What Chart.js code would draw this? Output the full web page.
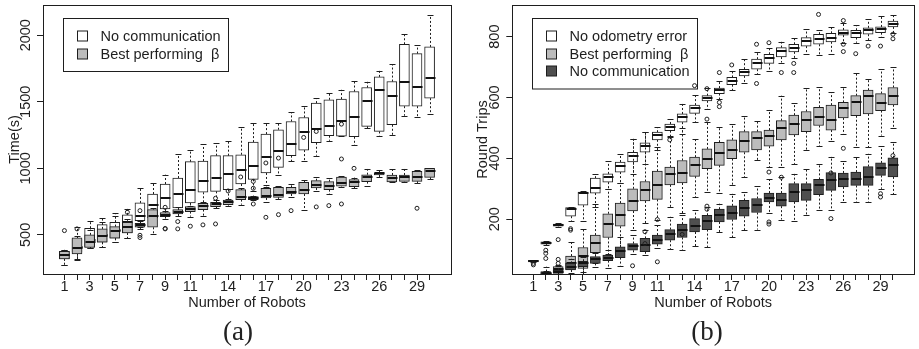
<!DOCTYPE html>
<html>
<head>
<meta charset="utf-8">
<script src="https://cdn.jsdelivr.net/npm/chart.js@4.4.1/dist/chart.umd.min.js"></script>
<style>
  body { margin: 0; background: #fff; width: 919px; height: 349px; position: relative; overflow: hidden; }
  .panel { position: absolute; top: 0; }
  canvas { display: block; }
  .cap { position: absolute; top: 316px; line-height: 30px; font-family: "Liberation Serif", serif; font-size: 27px; color: #222; transform: translateX(-50%); }
</style>
</head>
<body>
<div class="panel" style="left:0"><canvas id="chartA" width="459" height="349"></canvas></div>
<div class="panel" style="left:459px"><canvas id="chartB" width="460" height="349"></canvas></div>
<div class="cap" style="left:238px">(a)</div>
<div class="cap" style="left:707px">(b)</div>
<script>
// number of robots, one box per value
const robots = [1, 2, 3, 4, 5, 6, 7, 8, 9, 10, 11, 12, 13, 14, 15, 16, 17, 18, 19, 20, 21, 22, 23, 24, 25, 26, 27, 28, 29, 30];
const xLabels = [1, 3, 5, 7, 9, 11, 14, 17, 20, 23, 26, 29];
const timeTicks = [500, 1000, 1500, 2000];
const tripTicks = [200, 400, 600, 800];

// (a) Time(s): rows are [min, q1, median, q3, max]
const timeNoComm = [
    [277, 320, 345, 377, 387], [320, 370, 410, 470, 557], [400, 407, 460, 550, 602], [407, 445, 500, 577, 625],
    [445, 475, 535, 595, 662], [477, 515, 600, 650, 695], [560, 607, 645, 740, 852], [570, 627, 725, 807, 890],
    [650, 695, 777, 882, 952], [670, 702, 807, 927, 1107], [700, 740, 837, 1050, 1137], [720, 820, 902, 1055, 1182],
    [740, 827, 925, 1095, 1190], [760, 840, 960, 1095, 1202], [790, 882, 987, 1102, 1312], [830, 917, 1020, 1197, 1337],
    [877, 965, 1082, 1257, 1340], [952, 1007, 1127, 1290, 1340], [1052, 1095, 1182, 1352, 1420], [1057, 1137, 1270, 1382, 1467],
    [1095, 1192, 1295, 1490, 1527], [1207, 1245, 1317, 1515, 1565], [1240, 1242, 1357, 1520, 1590], [1175, 1237, 1387, 1577, 1657],
    [1300, 1315, 1502, 1607, 1650], [1245, 1277, 1587, 1687, 1732], [1250, 1327, 1540, 1652, 1782], [1395, 1467, 1645, 1932, 2012],
    [1387, 1467, 1612, 1862, 1925], [1407, 1527, 1677, 1912, 2152]
];
const timeNoCommOut = [[2, 545], [6, 670], [7, 682], [9, 707], [15, 935], [17, 1040], [18, 1077], [20, 1232], [21, 1277], [23, 1332]];

const timeBest = [
    [277, 320, 345, 377, 387], [312, 357, 402, 477, 490], [400, 405, 445, 500, 540], [407, 445, 495, 545, 600],
    [445, 475, 527, 562, 640], [477, 515, 557, 595, 620], [545, 557, 575, 587, 607], [507, 557, 640, 690, 700],
    [620, 637, 652, 667, 680], [640, 657, 675, 690, 710], [637, 675, 695, 712, 720], [640, 690, 715, 737, 745],
    [700, 712, 730, 745, 760], [720, 727, 747, 762, 770], [727, 765, 782, 840, 850], [760, 765, 777, 787, 795],
    [745, 777, 795, 850, 862], [770, 782, 800, 857, 867], [782, 807, 825, 857, 882], [687, 807, 840, 895, 912],
    [827, 852, 877, 907, 937], [807, 840, 870, 900, 927], [862, 865, 887, 935, 940], [850, 862, 900, 915, 930],
    [870, 900, 932, 952, 995], [932, 950, 962, 967, 990], [895, 897, 927, 950, 992], [900, 902, 932, 950, 997],
    [890, 902, 937, 977, 985], [920, 932, 982, 1000, 1002]
];
const timeBestOut = [[1, 532], [7, 497], [7, 480], [9, 545], [9, 548], [10, 600], [10, 545], [11, 565], [12, 575], [13, 582],
    [13, 775], [14, 830], [16, 902], [16, 850], [16, 732], [17, 632], [18, 652], [19, 682], [21, 710], [22, 720],
    [23, 1070], [23, 732], [24, 1000], [29, 700]];

// (b) Round trips
const tripsNoError = [
    [58, 60, 63, 65, 66], [115, 118, 122, 126, 128], [176, 177, 180, 184, 186], [195, 210, 235, 238, 240],
    [195, 246, 286, 289, 292], [240, 286, 304, 335, 348], [300, 322, 338, 349, 390], [319, 355, 374, 388, 413],
    [349, 388, 407, 420, 464], [382, 420, 442, 451, 486], [426, 461, 477, 486, 502], [469, 491, 504, 513, 529],
    [480, 519, 535, 546, 579], [519, 548, 565, 575, 608], [562, 589, 598, 606, 631], [595, 613, 624, 631, 655],
    [624, 642, 655, 666, 688], [649, 671, 684, 693, 726], [677, 693, 712, 726, 748], [686, 712, 729, 742, 764],
    [715, 733, 753, 764, 783], [729, 750, 764, 775, 797], [742, 769, 786, 797, 824], [740, 775, 791, 808, 821],
    [744, 783, 797, 811, 833], [780, 805, 813, 822, 845], [780, 797, 811, 821, 837], [788, 808, 821, 829, 857],
    [799, 813, 824, 832, 868], [813, 832, 843, 851, 871]
];
const tripsNoErrorOut = [[1, 50], [1, 55], [2, 98], [2, 88], [2, 71], [3, 133], [4, 169], [4, 164], [12, 461], [14, 639],
    [15, 629], [15, 529], [16, 682], [16, 584], [16, 570], [17, 707], [19, 775], [19, 646], [20, 780], [21, 682],
    [22, 712], [22, 682], [24, 873], [26, 853], [26, 775], [26, 751], [27, 744], [28, 769], [29, 769], [30, 808], [30, 793]];

const tripsBest = [
    null, [12, 18, 22, 28, 44], [20, 24, 35, 44, 50], [22, 35, 55, 79, 126],
    [20, 38, 79, 107, 169], [55, 90, 122, 148, 249], [85, 140, 184, 218, 300], [100, 177, 215, 253, 320],
    [164, 227, 259, 300, 464], [186, 260, 295, 324, 486], [197, 265, 313, 358, 437], [240, 313, 347, 371, 475],
    [219, 319, 352, 393, 500], [273, 341, 377, 404, 464], [289, 366, 398, 431, 519], [286, 377, 418, 453, 502],
    [311, 399, 426, 461, 513], [338, 420, 456, 488, 540], [393, 428, 467, 488, 524], [371, 440, 472, 493, 559],
    [371, 461, 499, 524, 606], [382, 477, 513, 542, 581], [426, 488, 526, 554, 631], [439, 508, 537, 568, 633],
    [458, 493, 526, 575, 617], [480, 533, 565, 584, 635], [437, 540, 584, 606, 682], [437, 546, 604, 624, 660],
    [475, 557, 581, 613, 693], [500, 576, 606, 633, 699]
];
const tripsBestOut = [[20, 355], [26, 433]];

const tripsNoComm = [
    null, [10, 15, 20, 25, 30], [18, 22, 28, 33, 45], [20, 33, 44, 55, 70],
    [25, 44, 55, 62, 75], [44, 55, 68, 77, 90], [39, 64, 74, 82, 98], [47, 74, 96, 109, 140],
    [85, 98, 112, 120, 148], [82, 93, 115, 137, 164], [104, 118, 133, 148, 180], [101, 131, 151, 166, 208],
    [98, 140, 164, 184, 213], [112, 158, 178, 202, 229], [109, 166, 193, 213, 240], [158, 191, 215, 233, 251],
    [140, 199, 222, 244, 284], [164, 210, 238, 262, 289], [166, 222, 246, 268, 308], [219, 257, 271, 286, 333],
    [199, 243, 262, 286, 338], [194, 257, 289, 317, 349], [213, 262, 295, 317, 366], [229, 281, 311, 331, 382],
    [229, 295, 328, 353, 406], [257, 306, 331, 352, 390], [257, 311, 333, 355, 404], [257, 311, 338, 373, 415],
    [300, 344, 368, 385, 440], [282, 339, 379, 402, 453]
];
const tripsNoCommOut = [[3, 68], [3, 55], [9, 47], [10, 159], [10, 120], [11, 199], [11, 60], [13, 150], [15, 243], [15, 233],
    [20, 191], [20, 184], [21, 338], [25, 352], [25, 202], [29, 284], [29, 273], [30, 409]];

const INK = '#1e1e1e';
const WHITE = '#ffffff', GREY = '#bcbcbc', DARK = '#4f4f4f';
const FONT = '14.5px "Liberation Sans", Arial, sans-serif';

Chart.defaults.font.family = '"Liberation Sans", Arial, sans-serif';
Chart.defaults.font.size = 14.5;
Chart.defaults.color = INK;

function boxDatasets(label, rows, outliers, fill, order) {
    const pts = [];
    robots.forEach(function (r, i) {
        if (rows[i]) pts.push({ x: r, y: [rows[i][1], rows[i][3]], stats: rows[i] });
    });
    return [{
        type: 'bar', label: label, data: pts, isBox: true,
        backgroundColor: fill, borderColor: INK, borderWidth: 1, borderSkipped: false,
        barThickness: 10, grouped: false, order: order
    }, {
        type: 'scatter', label: label + ' outliers',
        data: outliers.map(function (o) { return { x: o[0], y: o[1] }; }),
        pointStyle: 'circle', pointRadius: 2, pointBorderWidth: 1,
        pointBorderColor: INK, pointBackgroundColor: 'rgba(0,0,0,0)', order: order - 0.5
    }];
}

function clipTo(ctx, a) {
    ctx.beginPath();
    ctx.rect(a.left, a.top, a.right - a.left, a.bottom - a.top);
    ctx.clip();
}

// whiskers, medians, frame, upright y labels and the boxed legend, all placed through the chart scales
const boxPlugin = {
    id: 'boxStats',
    beforeDatasetsDraw(chart, args, opts) {
        const ctx = chart.ctx, a = chart.chartArea, items = opts.legend || [];
        const bx = Math.round(a.left + 20) + 0.5, by = Math.round(a.top + 13) + 0.5;
        const h = items.length * 17.5 + 18;
        ctx.save();
        ctx.fillStyle = '#fff';
        ctx.strokeStyle = INK;
        ctx.lineWidth = 1;
        ctx.fillRect(bx, by, 165, h);
        ctx.strokeRect(bx, by, 165, h);
        ctx.font = FONT;
        ctx.textBaseline = 'middle';
        items.forEach(function (it, i) {
            const cy = Math.round(by + 17.5 + i * 17.5);
            ctx.fillStyle = it.fill;
            ctx.fillRect(bx + 14, cy - 5, 10, 10);
            ctx.strokeRect(bx + 14, cy - 5, 10, 10);
            ctx.fillStyle = INK;
            ctx.fillText(it.text, bx + 37, cy + 0.5);
        });
        ctx.restore();
    },
    beforeDatasetDraw(chart, args) {
        const ds = chart.data.datasets[args.index];
        if (!ds.isBox) return;
        const ctx = chart.ctx, x = chart.scales.x, y = chart.scales.y;
        ctx.save();
        clipTo(ctx, chart.chartArea);
        ctx.strokeStyle = INK;
        ctx.lineWidth = 1;
        ds.data.forEach(function (p) {
            const s = p.stats;
            const px = Math.round(x.getPixelForValue(p.x)) + 0.5;
            const y0 = y.getPixelForValue(s[0]), y1 = y.getPixelForValue(s[1]);
            const y3 = y.getPixelForValue(s[3]), y4 = y.getPixelForValue(s[4]);
            ctx.setLineDash([2, 2]);
            ctx.beginPath();
            ctx.moveTo(px, y1); ctx.lineTo(px, y0);
            ctx.moveTo(px, y3); ctx.lineTo(px, y4);
            ctx.stroke();
            ctx.setLineDash([]);
            ctx.beginPath();
            ctx.moveTo(px - 3, Math.round(y0) + 0.5); ctx.lineTo(px + 3, Math.round(y0) + 0.5);
            ctx.moveTo(px - 3, Math.round(y4) + 0.5); ctx.lineTo(px + 3, Math.round(y4) + 0.5);
            ctx.stroke();
        });
        ctx.restore();
    },
    afterDatasetDraw(chart, args) {
        const ds = chart.data.datasets[args.index];
        if (!ds.isBox) return;
        const ctx = chart.ctx, x = chart.scales.x, y = chart.scales.y;
        ctx.save();
        clipTo(ctx, chart.chartArea);
        ctx.strokeStyle = '#111';
        ctx.lineWidth = 2;
        ds.data.forEach(function (p) {
            const px = Math.round(x.getPixelForValue(p.x)) + 0.5;
            const py = Math.round(y.getPixelForValue(p.stats[2]));
            ctx.beginPath();
            ctx.moveTo(px - 5, py); ctx.lineTo(px + 5, py);
            ctx.stroke();
        });
        ctx.restore();
    },
    afterDraw(chart) {
        const ctx = chart.ctx, a = chart.chartArea, y = chart.scales.y;
        ctx.save();
        ctx.strokeStyle = INK;
        ctx.lineWidth = 1;
        const l = Math.round(a.left) + 0.5, t = Math.round(a.top) + 0.5;
        ctx.strokeRect(l, t, Math.round(a.right) - Math.round(a.left), Math.round(a.bottom) - Math.round(a.top));
        // y tick labels read bottom to top, as in R
        ctx.fillStyle = INK;
        ctx.font = FONT;
        ctx.textAlign = 'center';
        ctx.textBaseline = 'middle';
        y.ticks.forEach(function (t) {
            ctx.save();
            ctx.translate(a.left - 17, y.getPixelForValue(t.value));
            ctx.rotate(-Math.PI / 2);
            ctx.fillText(String(t.value), 0, 0);
            ctx.restore();
        });
        ctx.restore();
    }
};

function makeChart(id, datasets, legend, yMin, yMax, yTicks, yTitle, yAxis) {
    return new Chart(document.getElementById(id), {
        type: 'bar',
        data: { datasets: datasets },
        plugins: [boxPlugin],
        options: {
            responsive: false,
            animation: false,
            events: [],
            layout: { padding: { left: 0, top: 4, right: yAxis.right, bottom: 37.6 } },
            plugins: {
                legend: { display: false },
                tooltip: { enabled: false },
                boxStats: { legend: legend }
            },
            scales: {
                x: {
                    type: 'linear', min: -0.7, max: 31.7, offset: false,
                    afterBuildTicks: function (s) { s.ticks = robots.map(function (v) { return { value: v }; }); },
                    afterFit: function (s) { s.height = 37.4; },
                    grid: { display: true, offset: false, drawOnChartArea: false, drawTicks: true, tickLength: 6, tickColor: INK, tickWidth: 1 },
                    border: { display: false },
                    ticks: {
                        autoSkip: false, minRotation: 0, maxRotation: 0, padding: -2,
                        callback: function (v) { return xLabels.indexOf(v) >= 0 ? String(v) : ''; }
                    },
                    title: { display: true, text: 'Number of Robots', padding: { top: 0, bottom: 0 } }
                },
                y: {
                    min: yMin, max: yMax,
                    afterBuildTicks: function (s) { s.ticks = yTicks.map(function (v) { return { value: v }; }); },
                    afterFit: function (s) { s.width = yAxis.width; },
                    grid: { display: true, drawOnChartArea: false, drawTicks: true, tickLength: 6, tickColor: INK, tickWidth: 1 },
                    border: { display: false },
                    ticks: { display: false },
                    title: { display: true, text: yTitle, padding: { top: yAxis.titlePad, bottom: 0 } }
                }
            }
        }
    });
}

makeChart('chartA',
    boxDatasets('No communication', timeNoComm, timeNoCommOut, WHITE, 6)
        .concat(boxDatasets('Best performing β', timeBest, timeBestOut, GREY, 4)),
    [{ text: 'No communication', fill: WHITE }, { text: 'Best performing  β', fill: GREY }],
    206, 2227, timeTicks, 'Time(s)',
    { width: 43, right: 8, titlePad: 6 });

makeChart('chartB',
    boxDatasets('No odometry error', tripsNoError, tripsNoErrorOut, WHITE, 6)
        .concat(boxDatasets('Best performing β', tripsBest, tripsBestOut, GREY, 4))
        .concat(boxDatasets('No communication', tripsNoComm, tripsNoCommOut, DARK, 2)),
    [{ text: 'No odometry error', fill: WHITE }, { text: 'Best performing  β', fill: GREY }, { text: 'No communication', fill: DARK }],
    20, 904, tripTicks, 'Round Trips',
    { width: 53.3, right: 1, titlePad: 15 });
</script>
</body>
</html>
